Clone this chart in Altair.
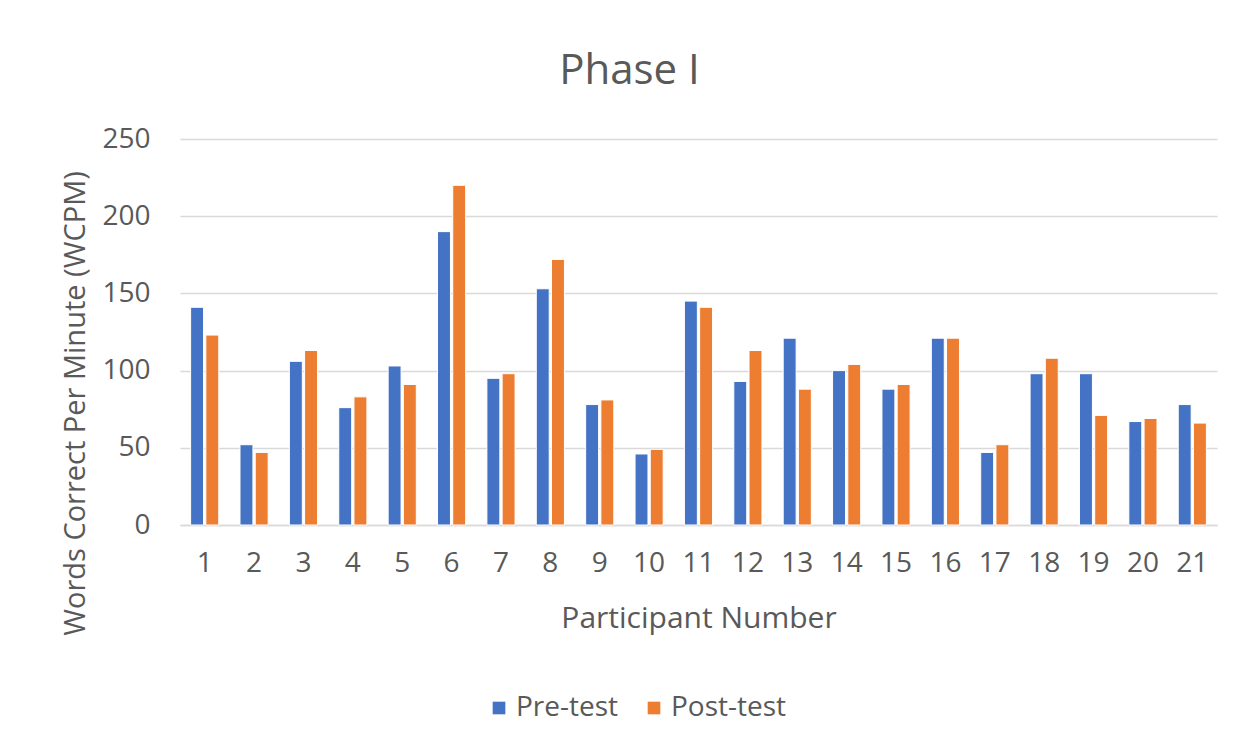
import altair as alt
import pandas as pd

participants = [str(i) for i in range(1, 22)]
pre_test = [141, 52, 106, 76, 103, 190, 95, 153, 78, 46, 145, 93, 121, 100, 88, 121, 47, 98, 98, 67, 78]
post_test = [123, 47, 113, 83, 91, 220, 98, 172, 81, 49, 141, 113, 88, 104, 91, 121, 52, 108, 71, 69, 66]
series = ["Pre-test", "Post-test"]
colors = ["#4472C4", "#ED7D31"]

rows = []
for p, a, b in zip(participants, pre_test, post_test):
    rows.append({"Participant": p, "Series": series[0], "Value": a})
    rows.append({"Participant": p, "Series": series[1], "Value": b})
df = pd.DataFrame(rows)

FONT = "Open Sans"
TXT = "#595959"

chart = alt.Chart(df).mark_bar(stroke="white", strokeWidth=1).encode(
    x=alt.X("Participant:N", sort=participants,
            scale=alt.Scale(paddingInner=0.43, paddingOuter=0.215),
            axis=alt.Axis(title="Participant Number", labelAngle=0, labelPadding=24,
                          titlePadding=26, ticks=False, domainColor="#D9D9D9",
                          domainWidth=1.5)),
    xOffset=alt.XOffset("Series:N", sort=series, scale=alt.Scale(paddingInner=0.15)),
    y=alt.Y("Value:Q", scale=alt.Scale(domain=[0, 250]),
            axis=alt.Axis(title="Words Correct Per Minute (WCPM)", values=[0, 50, 100, 150, 200, 250],
                          labelPadding=30, ticks=False, domain=False, gridColor="#D9D9D9",
                          gridWidth=1.5, titleX=-105, titleY=264, titleBaseline="middle",
                          titleAlign="center", titleAngle=270, titleFontSize=29)),
    color=alt.Color("Series:N", sort=series, scale=alt.Scale(domain=series, range=colors),
                    legend=alt.Legend(title=None, orient="none", direction="horizontal",
                                      legendX=305, legendY=555, symbolType="square",
                                      symbolSize=160, symbolStrokeWidth=0, columnPadding=21,
                                      labelOffset=3,
                                      labelFontSize=28, labelColor=TXT, labelFont=FONT)),
).properties(
    width=1037,
    height=386,
    title=alt.Title("Phase I", fontSize=42, font=FONT, color=TXT, fontWeight="normal",
                    offset=32, dx=-69),
    autosize=alt.AutoSizeParams(type="none"),
    padding={"left": 172, "top": 131, "right": 19, "bottom": 221},
).configure_view(stroke=None).configure_axis(
    labelFont=FONT, labelFontSize=28, labelColor=TXT,
    titleFont=FONT, titleFontSize=30, titleColor=TXT, titleFontWeight="normal",
)

chart.save("out.html", embed_options={"renderer": "svg", "actions": False})
